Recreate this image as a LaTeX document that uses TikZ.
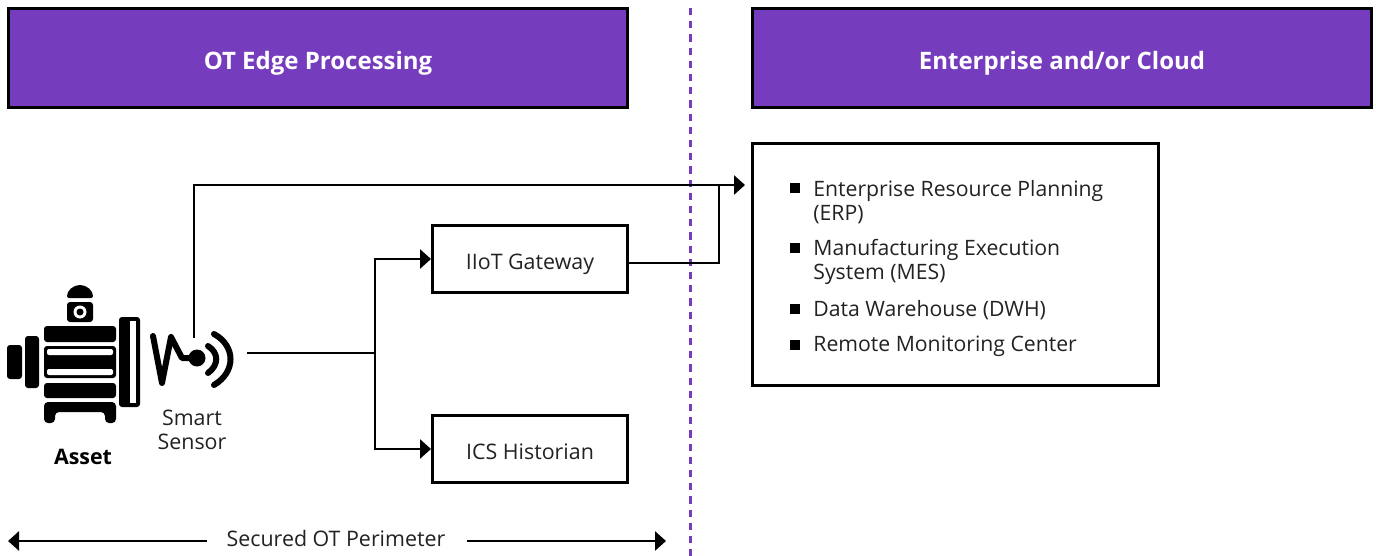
\documentclass[tikz,border=0pt]{standalone}
\usepackage{fontspec}
\setmainfont{Open Sans}
\usetikzlibrary{arrows.meta, positioning}
\definecolor{headpurple}{HTML}{763CBE}
\definecolor{inkgray}{HTML}{222222}
\tikzset{
    headbox/.style={draw=black, line width=1.4pt, fill=headpurple, text=white, font=\fontsize{12}{14}\selectfont\bfseries, minimum width=309.6pt, minimum height=49.6pt, text height=14pt, text depth=2.4pt},
    procbox/.style={draw=black, line width=1.4pt, text=inkgray, font=\fontsize{10.7}{12}\selectfont, minimum width=97.6pt, minimum height=33.6pt, text height=12pt, text depth=2pt},
    itemlabel/.style={anchor=west, align=left, inner sep=0pt, text=inkgray, font=\fontsize{10.6}{12}\selectfont},
    plainlabel/.style={align=center, inner sep=0pt, text=inkgray, font=\fontsize{10.7}{12}\selectfont},
    link/.style={line width=1.4pt, -{Triangle[length=5.5pt,width=9.5pt]}},
}
\begin{document}
\begin{tikzpicture}[x=0.5pt,y=-0.5pt]
\useasboundingbox (0,0) rectangle (1376,556);

% Divider between the two zones
\draw[headpurple, line width=1.5pt, dash pattern=on 3.6pt off 3pt] (690,8) -- (690,556);

% Zone headers
\node[headbox] (edgehead) at (318,58) {OT Edge Processing};
\node[headbox] (cloudhead) at (1062,58) {Enterprise and/or Cloud};

% Processing boxes
\node[procbox] (gateway) at (530,259) {IIoT Gateway};
\node[procbox] (historian) at (530,449) {ICS Historian};

% Enterprise box and its list
\node[draw=black, line width=1.4pt, minimum width=203.2pt, minimum height=121.2pt] (erpbox) at (955.5,264.5) {};
\foreach \itemy/\marky/\itemtext in {202.5/188/{Enterprise Resource Planning\\(ERP)},262/248/{Manufacturing Execution\\System (MES)},310.5/309/{Data Warehouse (DWH)},346.5/345/{Remote Monitoring Center}}
{
    \fill (789.5,\marky-5) rectangle ++(10,10);
    \node[itemlabel] at (813,\itemy) {\itemtext};
}

% Asset, the motor
\fill[rounded corners=1pt] (67,298) arc (180:0:6.5pt and 6.5pt) -- cycle;
\fill[rounded corners=1.5pt] (67,302) rectangle (93,322);
\fill[white] (80,312) circle (6.5);
\fill (80,312) circle (3.5);
\fill[rounded corners=1.5pt] (7,345) rectangle (22,379);
\fill[rounded corners=1.5pt] (25,336) rectangle (39,388);
\foreach \rowtop/\rowbot in {326/342,346/378,383/398}
{
    \fill[rounded corners=1.5pt] (44,\rowtop) rectangle (116,\rowbot);
}
\foreach \slottop in {349,369}
{
    \fill[white, rounded corners=1pt] (47,\slottop) rectangle (113,\slottop+6);
}
\fill[rounded corners=2pt] (44,402) -- (116,402) -- (116,423) -- (105,423) -- (105,412) -- (55,412) -- (55,423) -- (44,423) -- cycle;
\fill[rounded corners=1.5pt] (119,317) rectangle (140,407);
\fill[white] (130,321) rectangle (136,403);
\node[plainlabel, font=\fontsize{10.7}{12}\selectfont\bfseries, text=black] (asset) at (83,457) {Asset};

% Smart sensor
\draw[line width=3pt, line cap=round, line join=round] (153,336) -- (162,383) -- (171,337) -- (182,358) -- (197,358);
\fill (197,358) circle (8.5);
\draw[line width=3pt, line cap=round] (208,346) .. controls (219,353) and (219,365) .. (208,373);
\draw[line width=3pt, line cap=round] (214,334) .. controls (236,346) and (236,372) .. (214,385);
\node[plainlabel] (sensor) at (192,430) {Smart\\Sensor};
\coordinate (sensorup) at (194,338);
\coordinate (sensorout) at (247,353);
\coordinate (hub) at (375,353);

% Connectors
\coordinate (erpin) at (745,185);
\coordinate (merge) at (719,185);
\draw[link] (sensorup) |- (erpin);
\draw[line width=1.4pt] ([yshift=-2pt]gateway.east) -| (merge);
\draw[line width=1.4pt] (sensorout) -- (hub);
\draw[link] (hub) |- (gateway.west);
\draw[link] (hub) |- (historian.west);

% Perimeter span
\node[plainlabel] (perimeter) at (336,538) {Secured OT Perimeter};
\coordinate (spanleft) at (8,541);
\coordinate (spanright) at (666,541);
\draw[link] (207,541) -- (spanleft);
\draw[link] (467,541) -- (spanright);

\end{tikzpicture}
\end{document}
